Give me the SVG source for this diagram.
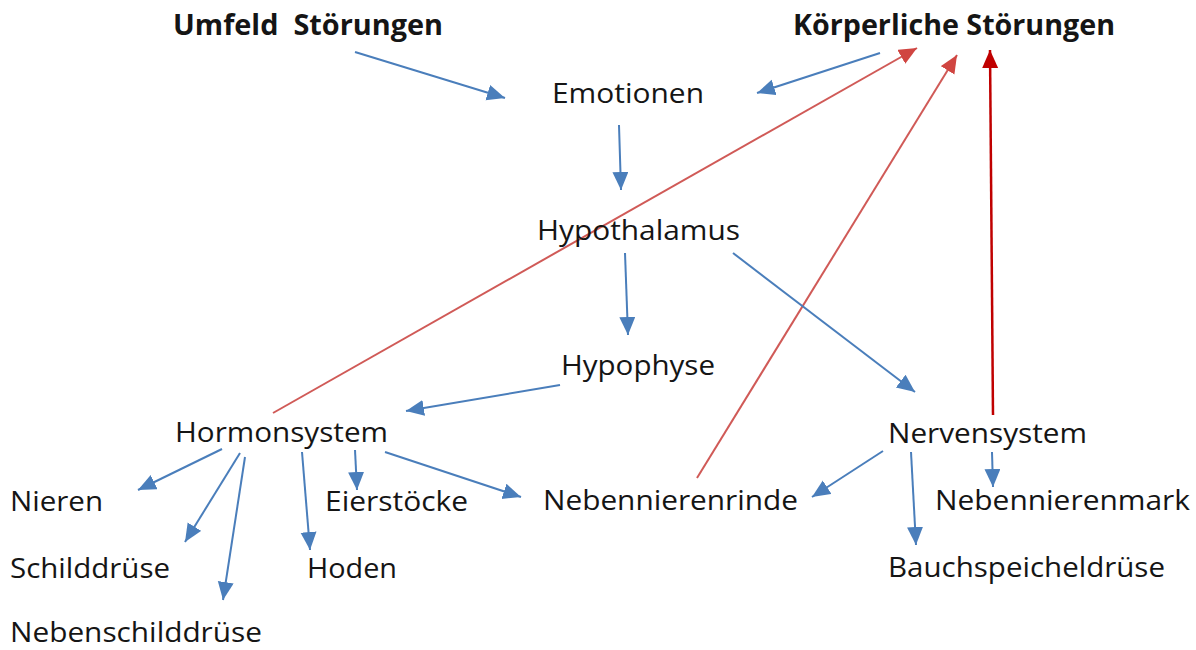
<svg xmlns="http://www.w3.org/2000/svg" width="1196" height="650" viewBox="0 0 1196 650">
<style>
text{font-family:"Open Sans","Noto Sans","Liberation Sans",sans-serif;font-size:27px;fill:#151515}
.b{font-weight:bold;font-size:28px}
.bl{stroke:#4a7ebb;stroke-width:2;fill:none;marker-end:url(#ab)}
.rd{stroke:#d05a57;stroke-width:2;fill:none;marker-end:url(#ar)}
.dr{stroke:#c00000;stroke-width:2.5;fill:none;marker-end:url(#ad)}
</style>
<defs>
<marker id="ab" markerUnits="userSpaceOnUse" markerWidth="20" markerHeight="18" refX="18" refY="8" orient="auto"><path d="M0,0 L18,8 L0,16 z" fill="#4a7ebb"/></marker>
<marker id="ar" markerUnits="userSpaceOnUse" markerWidth="20" markerHeight="18" refX="18" refY="8" orient="auto"><path d="M0,0 L18,8 L0,16 z" fill="#d04541"/></marker>
<marker id="ad" markerUnits="userSpaceOnUse" markerWidth="20" markerHeight="18" refX="18" refY="8" orient="auto"><path d="M0,0 L18,8 L0,16 z" fill="#c00000"/></marker>
</defs>
<rect width="1196" height="650" fill="#fff"/>
<g id="connectors">
<line class="bl" x1="355" y1="52" x2="505" y2="98"/>
<line class="bl" x1="880" y1="53" x2="757" y2="93"/>
<line class="rd" x1="273" y1="413" x2="917" y2="48"/>
<line class="rd" x1="697" y1="478" x2="957" y2="55"/>
<line class="dr" x1="993" y1="415" x2="990" y2="50"/>
<line class="bl" x1="619" y1="125" x2="621" y2="190"/>
<line class="bl" x1="625" y1="253" x2="628" y2="335"/>
<line class="bl" x1="733" y1="253" x2="915" y2="392"/>
<line class="bl" x1="560" y1="385" x2="406" y2="411"/>
<line class="bl" x1="222" y1="449" x2="138" y2="490"/>
<line class="bl" x1="240" y1="453" x2="185" y2="542"/>
<line class="bl" x1="245" y1="457" x2="223" y2="600"/>
<line class="bl" x1="302" y1="452" x2="310" y2="550"/>
<line class="bl" x1="355" y1="450" x2="357" y2="490"/>
<line class="bl" x1="385" y1="452" x2="521" y2="497"/>
<line class="bl" x1="883" y1="451" x2="812" y2="497"/>
<line class="bl" x1="911" y1="452" x2="916" y2="545"/>
<line class="bl" x1="992" y1="452" x2="993" y2="487"/>
</g>
<g id="umfeld"><text class="b" x="173" y="35" xml:space="preserve" textLength="270" lengthAdjust="spacingAndGlyphs">Umfeld  Störungen</text></g>
<g id="koerperliche"><text class="b" x="793" y="35" textLength="322" lengthAdjust="spacingAndGlyphs">Körperliche Störungen</text></g>
<g id="emotionen"><text x="552" y="103" textLength="152" lengthAdjust="spacingAndGlyphs">Emotionen</text></g>
<g id="hypothalamus"><text x="537" y="240" textLength="203" lengthAdjust="spacingAndGlyphs">Hypothalamus</text></g>
<g id="hypophyse"><text x="561" y="375" textLength="154" lengthAdjust="spacingAndGlyphs">Hypophyse</text></g>
<g id="hormonsystem"><text x="175" y="442" textLength="213" lengthAdjust="spacingAndGlyphs">Hormonsystem</text></g>
<g id="nervensystem"><text x="888" y="443" textLength="199" lengthAdjust="spacingAndGlyphs">Nervensystem</text></g>
<g id="nieren"><text x="10" y="511" textLength="93" lengthAdjust="spacingAndGlyphs">Nieren</text></g>
<g id="eierstoecke"><text x="325" y="511" textLength="143" lengthAdjust="spacingAndGlyphs">Eierstöcke</text></g>
<g id="nebennierenrinde"><text x="543" y="510" textLength="255" lengthAdjust="spacingAndGlyphs">Nebennierenrinde</text></g>
<g id="nebennierenmark"><text x="935" y="510" textLength="255" lengthAdjust="spacingAndGlyphs">Nebennierenmark</text></g>
<g id="schilddruese"><text x="10" y="578" textLength="160" lengthAdjust="spacingAndGlyphs">Schilddrüse</text></g>
<g id="hoden"><text x="307" y="578" textLength="90" lengthAdjust="spacingAndGlyphs">Hoden</text></g>
<g id="bauchspeicheldruese"><text x="888" y="577" textLength="277" lengthAdjust="spacingAndGlyphs">Bauchspeicheldrüse</text></g>
<g id="nebenschilddruese"><text x="10" y="642" textLength="252" lengthAdjust="spacingAndGlyphs">Nebenschilddrüse</text></g>
</svg>
